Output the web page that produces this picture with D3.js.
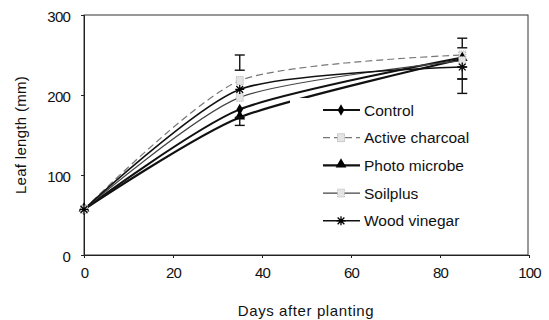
<!DOCTYPE html>
<html><head><meta charset="utf-8">
<script src="https://cdn.jsdelivr.net/npm/d3@7"></script>
<style>body{margin:0;background:#fff}svg{display:block}text{font-family:"Liberation Sans",Arial,sans-serif;fill:#111}</style>
</head><body><svg id="c" width="549" height="320"></svg>
<script>
const days = [0, 35, 85];
const seriesNames = ["Control", "Active charcoal", "Photo microbe", "Soilplus", "Wood vinegar"];
const control = [57, 182, 247];
const activeCharcoal = [57, 218, 250];
const photoMicrobe = [57, 172, 245];
const soilplus = [57, 197, 243];
const woodVinegar = [57, 207, 235];
const errDay = [35, 35, 85, 85, 85];
const errLow = [231, 162, 259, 220, 202];
const errHigh = [250, 172, 271, 235, 220];
const xTicks = [0, 20, 40, 60, 80, 100];
const yTicks = [0, 100, 200, 300];

const svg = d3.select("#c");
const x = d3.scaleLinear().domain([0, 100]).range([84, 529]);
const y = d3.scaleLinear().domain([0, 300]).range([255, 15]);

const styles = [
  {stroke:"#111", w:2, dash:null, marker:"diamond"},
  {stroke:"#777", w:1.2, dash:"7,4", marker:"soft"},
  {stroke:"#111", w:2.2, dash:null, marker:"triangle"},
  {stroke:"#444", w:1.2, dash:null, marker:"soft2"},
  {stroke:"#111", w:1.6, dash:null, marker:"star"}
];
const data = [control, activeCharcoal, photoMicrobe, soilplus, woodVinegar];

// frame
svg.append("rect").attr("x",84).attr("y",15).attr("width",444).attr("height",240)
  .attr("fill","none").attr("stroke","#333").attr("stroke-width",1);

// axes
const gx = svg.append("g").attr("transform","translate(0,255)")
  .call(d3.axisBottom(x).tickValues(xTicks).tickSize(3).tickPadding(6));
const gy = svg.append("g").attr("transform","translate(84,0)")
  .call(d3.axisLeft(y).tickValues(yTicks).tickSize(3).tickPadding(11));
[gx,gy].forEach(g=>{
  g.select(".domain").attr("stroke","#222");
  g.selectAll(".tick line").attr("stroke","#222");
  g.selectAll("text").style("font-size","15px").style("letter-spacing","-0.8px")
   .style("font-family","'Liberation Sans',Arial,sans-serif").attr("fill","#111");
});
gx.selectAll("text").attr("dy","0.9em");
gy.selectAll("text").attr("dy","0.4em");

const line = d3.line().x((d,i)=>x(days[i])).y(d=>y(d)).curve(d3.curveCardinal.tension(0.3));

function drawMarker(g, type, cx, cy){
  if(type==="diamond"){
    g.append("path").attr("d",d3.symbol(d3.symbolDiamond,38)()).attr("transform",`translate(${cx},${cy})`).attr("fill","#000");
  } else if(type==="triangle"){
    g.append("path").attr("d",d3.symbol(d3.symbolTriangle,50)()).attr("transform",`translate(${cx},${cy-1})`).attr("fill","#000");
  } else if(type==="star"){
    const s=4.5;
    g.append("path").attr("d",`M${cx-s},${cy}H${cx+s}M${cx},${cy-s}V${cy+s}M${cx-s*0.75},${cy-s*0.75}L${cx+s*0.75},${cy+s*0.75}M${cx-s*0.75},${cy+s*0.75}L${cx+s*0.75},${cy-s*0.75}`)
      .attr("stroke","#000").attr("stroke-width",1.3);
  } else {
    const c = type==="soft" ? "#aaa" : "#bbb";
    g.append("rect").attr("x",cx-3.5).attr("y",cy-4).attr("width",7).attr("height",8)
      .attr("fill","#e4e4e4").attr("stroke",c).attr("stroke-width",1).attr("stroke-dasharray","1,1");
  }
}

// lines
data.forEach((vals,k)=>{
  const st = styles[k];
  svg.append("path").datum(vals).attr("d",line).attr("fill","none")
    .attr("stroke",st.stroke).attr("stroke-width",st.w).attr("stroke-dasharray",st.dash);
});
// markers
data.forEach((vals,k)=>{
  const g = svg.append("g");
  vals.forEach((v,i)=>drawMarker(g, styles[k].marker, x(days[i]), y(v)));
});
// error bars
errDay.forEach((d,i)=>{
  const cx = x(d);
  const g = svg.append("g").attr("stroke","#111").attr("stroke-width",1.4);
  g.append("line").attr("x1",cx).attr("x2",cx).attr("y1",y(errLow[i])).attr("y2",y(errHigh[i]));
  g.append("line").attr("x1",cx-5).attr("x2",cx+5).attr("y1",y(errLow[i])).attr("y2",y(errLow[i]));
  g.append("line").attr("x1",cx-5).attr("x2",cx+5).attr("y1",y(errHigh[i])).attr("y2",y(errHigh[i]));
});

// legend
const lg = svg.append("g");
lg.append("rect").attr("x",290).attr("y",98).attr("width",186).attr("height",134).attr("fill","#fff");
seriesNames.forEach((name,k)=>{
  const ry = 110 + k*27.7;
  const st = styles[k];
  lg.append("line").attr("x1",323).attr("x2",360).attr("y1",ry).attr("y2",ry)
    .attr("stroke",st.stroke).attr("stroke-width",st.w).attr("stroke-dasharray",st.dash);
  drawMarker(lg, st.marker, 341, ry);
  lg.append("text").attr("x",364).attr("y",ry+5.5).style("font-size","15.5px").text(name);
});

// titles
svg.append("text").attr("transform","translate(26,135) rotate(-90)").attr("text-anchor","middle")
  .style("font-size","15px").style("letter-spacing","0.3px").text("Leaf length (mm)");
svg.append("text").attr("x",306).attr("y",316).attr("text-anchor","middle")
  .style("font-size","15px").style("letter-spacing","0.6px").text("Days after planting");
</script></body></html>
